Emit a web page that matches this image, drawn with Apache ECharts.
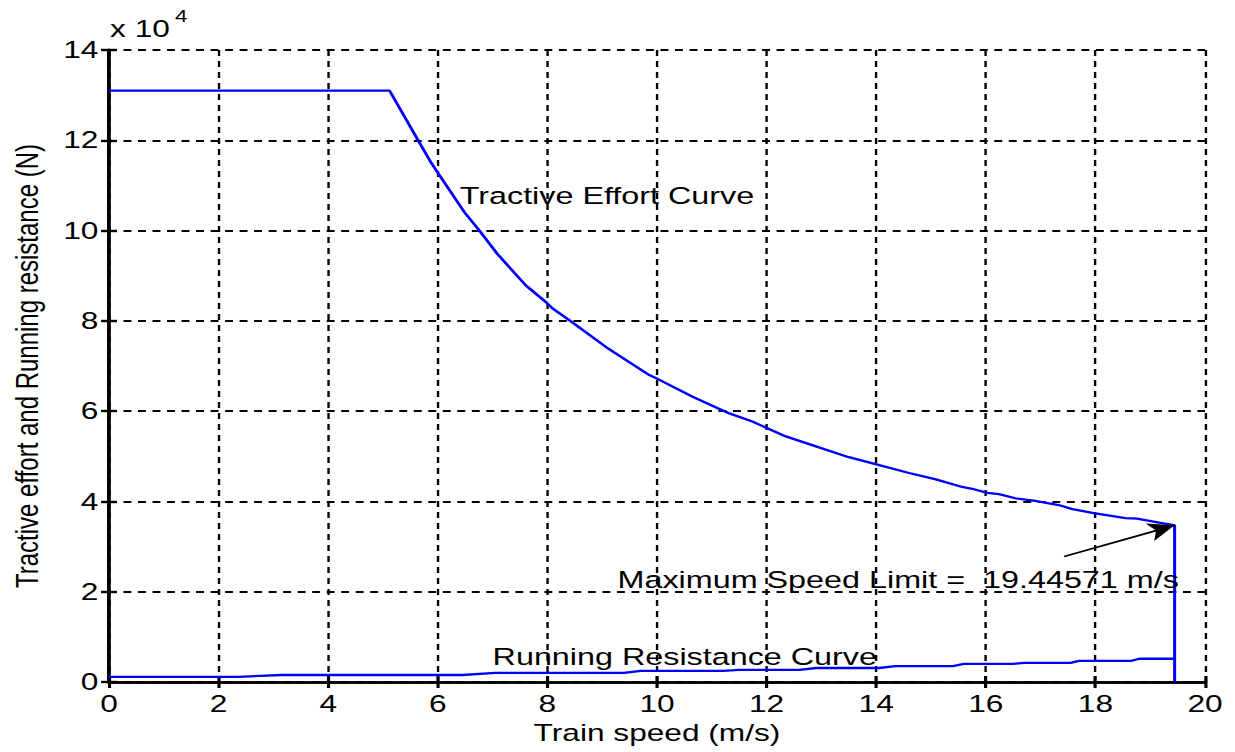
<!DOCTYPE html>
<html>
<head>
<meta charset="utf-8">
<script src="https://cdn.jsdelivr.net/npm/echarts@6/dist/echarts.min.js"></script>
<style>
  html, body { margin: 0; padding: 0; background: #fff; overflow: hidden; }
  /* the reference figure is stretched sideways, so draw narrow and stretch */
  #main { width: 936px; height: 752px; transform: scaleX(1.3194); transform-origin: 0 0; }
</style>
</head>
<body>
<div id="main"></div>
<script>
// speed (m/s) vs force (N)
var tractiveSpeed = [0, 5.12, 5.64, 5.88, 6.0, 6.49, 6.76, 7.09, 7.61, 7.98, 8.1, 8.43, 9.07, 9.86, 10.0,
  10.65, 11.32, 11.74, 12.35, 12.9, 13.5, 13.97, 14.6, 15.09, 15.57, 15.75, 16.03, 16.24, 16.54, 16.9,
  17.33, 17.58, 17.97, 18.55, 18.76, 19.16, 19.4, 19.44571, 19.44571];
var tractiveForce = [131000, 131000, 120000, 115000, 112800, 104000, 100000, 94800, 87800, 84100, 82700, 79900, 74200, 68000, 67200,
  63200, 59500, 57700, 54400, 52200, 49800, 48300, 46300, 44900, 43200, 42800, 41900, 41600, 40700, 40100,
  39200, 38300, 37400, 36300, 36200, 35300, 34800, 34700, 0];

var resistSpeed = [0, 2.35, 3.15, 6.45, 7.05, 9.4, 9.7, 11.2, 11.5, 12.6, 12.9, 14.05, 14.35, 15.4, 15.6,
  16.5, 16.7, 17.55, 17.7, 18.65, 18.8, 19.44571];
var resistForce = [1150, 1150, 1550, 1550, 2000, 2000, 2450, 2450, 2700, 2700, 3100, 3100, 3500, 3500, 4000,
  4000, 4250, 4250, 4700, 4700, 5150, 5150];

var maxSpeed = 19.44571;
var arrowFrom = [17.43, 27800];
var arrowTo = [19.44571, 34700];

var xTicks = { min: 0, max: 20, interval: 2 };
var yTicks = { min: 0, max: 140000, interval: 20000 };

var tractiveText = { text: "Tractive Effort Curve", coord: [6.4, 107700] };
var resistText = { text: "Running Resistance Curve", coord: [7.0, 5700] };
var limitText = { text: "Maximum Speed Limit =  " + maxSpeed + " m/s", coord: [9.28, 22800] };

var font = "'Liberation Sans', Arial, sans-serif";

function zip(xs, ys) {
  return xs.map(function (x, i) { return [x, ys[i]]; });
}

function textPoint(t) {
  return {
    coord: t.coord,
    symbol: "circle",
    symbolSize: 0,
    label: {
      show: true,
      position: "right",
      distance: 0,
      formatter: t.text,
      color: "#000",
      fontSize: 24.5,
      fontFamily: font
    }
  };
}

var dom = document.getElementById("main");
var myChart = echarts.init(dom, null, { renderer: "svg" });

var gridLine = { show: true, lineStyle: { color: "#000", width: 1.8, type: [6, 5] } };
var frame = { show: true, lineStyle: { color: "#000", width: 2.6 } };
var tick = { show: true, inside: true, length: 6, lineStyle: { color: "#000", width: 2.4 } };

var option = {
  animation: false,
  backgroundColor: "#fff",
  grid: { left: 82.6, right: 22.7, top: 50, bottom: 70 },
  graphic: [
    { type: "text", left: 83.4, top: 17, style: { text: "x 10", fontSize: 24, fontFamily: font, fill: "#000" } },
    { type: "text", left: 132.6, top: 8, style: { text: "4", fontSize: 17, fontFamily: font, fill: "#000" } }
  ],
  xAxis: [
    {
      type: "value", min: xTicks.min, max: xTicks.max, interval: xTicks.interval,
      name: "Train speed (m/s)", nameLocation: "middle", nameGap: 36,
      nameTextStyle: { color: "#000", fontSize: 24, fontFamily: font },
      axisLine: frame, axisTick: tick, splitLine: gridLine,
      axisLabel: { color: "#000", fontSize: 24, fontFamily: font, margin: 10 }
    },
    {
      type: "value", position: "top", min: xTicks.min, max: xTicks.max, interval: xTicks.interval,
      axisLine: frame, axisTick: tick, splitLine: { show: false }, axisLabel: { show: false }
    }
  ],
  yAxis: [
    {
      type: "value", min: yTicks.min, max: yTicks.max, interval: yTicks.interval,
      name: "Tractive effort and Running resistance (N)", nameLocation: "middle", nameGap: 50,
      nameTextStyle: { color: "#000", fontSize: 24, fontFamily: font },
      axisLine: frame, axisTick: tick, splitLine: gridLine,
      axisLabel: {
        color: "#000", fontSize: 24, fontFamily: font, margin: 8,
        formatter: function (v) { return v / 10000; }
      }
    },
    {
      type: "value", position: "right", min: yTicks.min, max: yTicks.max, interval: yTicks.interval,
      axisLine: frame, axisTick: tick, splitLine: { show: false }, axisLabel: { show: false }
    }
  ],
  series: [
    {
      name: "Tractive effort",
      type: "line",
      data: zip(tractiveSpeed, tractiveForce),
      showSymbol: false,
      lineStyle: { color: "#0000ff", width: 2.3 },
      z: 3,
      markPoint: { data: [textPoint(tractiveText), textPoint(limitText)] },
      markLine: {
        silent: true,
        symbol: ["none", "arrow"],
        symbolSize: [14, 20],
        label: { show: false },
        lineStyle: { color: "#000", width: 1.8, type: "solid" },
        data: [[{ coord: arrowFrom }, { coord: arrowTo }]]
      }
    },
    {
      name: "Running resistance",
      type: "line",
      data: zip(resistSpeed, resistForce),
      showSymbol: false,
      lineStyle: { color: "#0000ff", width: 2.3 },
      z: 3,
      markPoint: { data: [textPoint(resistText)] }
    }
  ]
};

myChart.setOption(option);
window.addEventListener("resize", myChart.resize);
</script>
</body>
</html>
